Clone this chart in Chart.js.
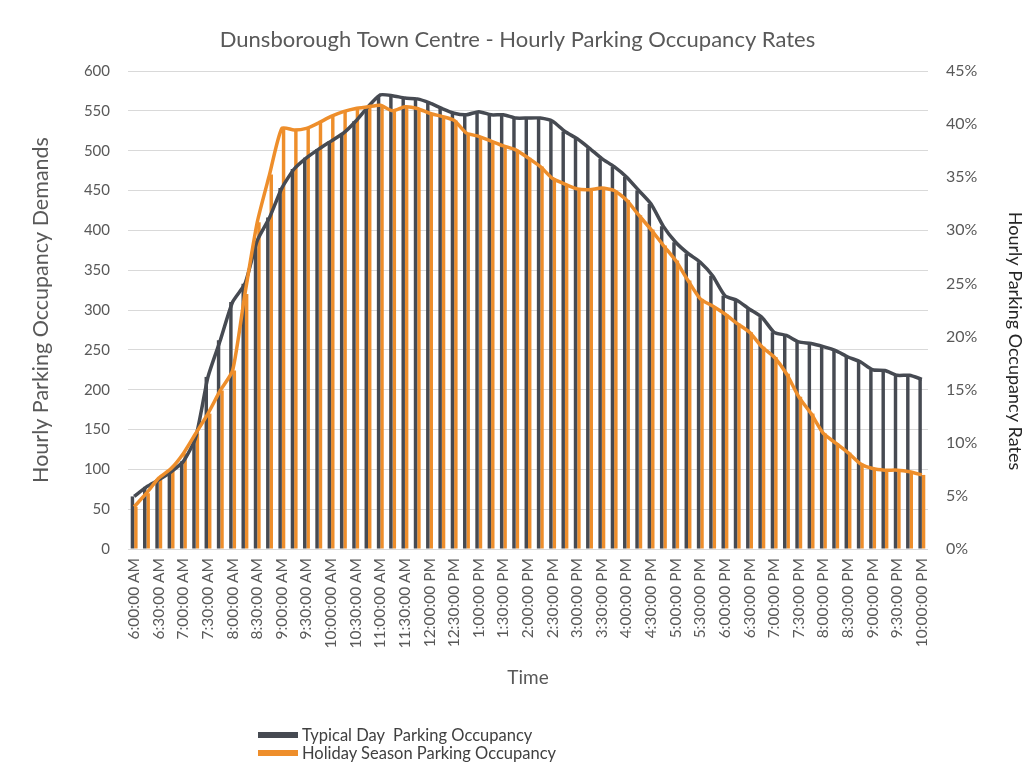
<!DOCTYPE html>
<html>
  <head>
    <title>Dunsborough Town Centre - Parking Occupancy</title>
    <script src="https://cdn.jsdelivr.net/npm/chart.js"></script>
    <style>
      body { margin: 0; background: #fff; font-family: Lato, sans-serif; }
      .chart-wrap { position: relative; width: 1035px; height: 771px; }
      #legend { position: absolute; left: 258px; top: 726px; font-size: 16.5px; color: #404040; }
      #legend .item { display: flex; align-items: center; height: 18px; white-space: pre; }
      #legend .box { display: inline-block; width: 40px; height: 6px; margin-right: 4px; }
    </style>
  </head>
  <body>
    <div class="chart-wrap">
      <canvas id="occupancy-chart" width="1035" height="771"></canvas>
      <div id="legend"></div>
    </div>
    <script>
      // 15 minute intervals, 6am to 10pm
      var times = [
        '6:00:00 AM', '6:15:00 AM', '6:30:00 AM', '6:45:00 AM', '7:00:00 AM', '7:15:00 AM', '7:30:00 AM', '7:45:00 AM',
        '8:00:00 AM', '8:15:00 AM', '8:30:00 AM', '8:45:00 AM', '9:00:00 AM', '9:15:00 AM', '9:30:00 AM', '9:45:00 AM',
        '10:00:00 AM', '10:15:00 AM', '10:30:00 AM', '10:45:00 AM', '11:00:00 AM', '11:15:00 AM', '11:30:00 AM', '11:45:00 AM',
        '12:00:00 PM', '12:15:00 PM', '12:30:00 PM', '12:45:00 PM', '1:00:00 PM', '1:15:00 PM', '1:30:00 PM', '1:45:00 PM',
        '2:00:00 PM', '2:15:00 PM', '2:30:00 PM', '2:45:00 PM', '3:00:00 PM', '3:15:00 PM', '3:30:00 PM', '3:45:00 PM',
        '4:00:00 PM', '4:15:00 PM', '4:30:00 PM', '4:45:00 PM', '5:00:00 PM', '5:15:00 PM', '5:30:00 PM', '5:45:00 PM',
        '6:00:00 PM', '6:15:00 PM', '6:30:00 PM', '6:45:00 PM', '7:00:00 PM', '7:15:00 PM', '7:30:00 PM', '7:45:00 PM',
        '8:00:00 PM', '8:15:00 PM', '8:30:00 PM', '8:45:00 PM', '9:00:00 PM', '9:15:00 PM', '9:30:00 PM', '9:45:00 PM',
        '10:00:00 PM'
      ];

      var typicalDay = [
        66, 78, 87, 97, 110, 140, 216, 262, 310, 333, 387, 416, 453, 477, 491, 502,
        512, 522, 537, 555, 570, 569, 566, 565, 560, 553, 547, 545, 549, 545, 545, 541,
        541, 541, 537, 524, 515, 503, 490, 480, 467, 450, 433, 405, 385, 371, 360, 343,
        318, 312, 301, 291, 272, 268, 260, 258, 254, 249, 241, 235, 225, 224, 218, 218,
        213
      ];

      var holidaySeason = [
        53, 70, 89, 101, 120, 145, 170, 199, 224, 320, 410, 470, 528, 526, 528, 535,
        543, 549, 553, 555, 557, 550, 555, 553, 547, 543, 538, 522, 518, 512, 506, 501,
        491, 480, 465, 458, 452, 451, 453, 450, 438, 419, 401, 381, 362, 337, 314, 305,
        295, 283, 272, 254, 241, 220, 191, 170, 145, 133, 121, 107, 101, 99, 99, 97,
        93
      ];

      var darkGrey = '#464a52';
      var orange = '#ee8e2b';

      Chart.defaults.font.family = 'Lato, sans-serif';
      Chart.defaults.color = '#595959';

      // the rates axis title sits a little below the middle of the axis
      var ratesTitle = {
        id: 'ratesTitle',
        afterDraw: function (chart) {
          var area = chart.chartArea;
          var c = chart.ctx;
          c.save();
          c.translate(chart.scales.y1.right - 20, (area.top + area.bottom) / 2 + 31);
          c.rotate(Math.PI / 2);
          c.font = '18px Lato, sans-serif';
          c.fillStyle = '#262626';
          c.textAlign = 'center';
          c.textBaseline = 'middle';
          c.fillText('Hourly Parking Occupancy Rates', 0, 0);
          c.restore();
        },
      };

      var ctx = document.getElementById('occupancy-chart').getContext('2d');

      var chartData = {
        labels: times,
        datasets: [
          {
            type: 'line',
            label: 'Holiday Season',
            data: holidaySeason,
            borderColor: orange,
            borderWidth: 3.5,
            pointRadius: 0,
            tension: 0.2,
            yAxisID: 'y',
            order: 0,
          },
          {
            type: 'line',
            label: 'Typical Day',
            data: typicalDay,
            borderColor: darkGrey,
            borderWidth: 3.5,
            pointRadius: 0,
            tension: 0.2,
            yAxisID: 'y',
            order: 1,
          },
          {
            type: 'bar',
            label: 'Typical Day  Parking Occupancy',
            data: typicalDay,
            backgroundColor: darkGrey,
            categoryPercentage: 0.56,
            barPercentage: 1.0,
            yAxisID: 'y',
            order: 2,
          },
          {
            type: 'bar',
            label: 'Holiday Season Parking Occupancy',
            data: holidaySeason,
            backgroundColor: orange,
            categoryPercentage: 0.56,
            barPercentage: 1.0,
            yAxisID: 'y',
            order: 2,
          },
        ],
      };

      var chartOptions = {
        responsive: false,
        animation: false,
        layout: { padding: 0 },
        plugins: {
          legend: { display: false },
          tooltip: { enabled: false },
          title: {
            display: true,
            text: 'Dunsborough Town Centre - Hourly Parking Occupancy Rates',
            color: '#595959',
            font: { size: 22, weight: 'normal' },
            padding: { top: 27, bottom: 17.6 },
          },
        },
        scales: {
          x: {
            grid: { display: false },
            border: { display: false },
            ticks: {
              autoSkip: false,
              minRotation: 90,
              maxRotation: 90,
              padding: 1,
              font: { size: 15.5 },
              callback: function (value, index) {
                return index % 2 === 0 ? times[index] : '';
              },
            },
            title: {
              display: true,
              text: 'Time',
              font: { size: 19 },
              padding: { bottom: 82 },
            },
            afterFit: function (scale) {
              scale.height = 222;
            },
          },
          y: {
            position: 'left',
            min: 0,
            max: 600,
            border: { display: false },
            grid: { color: '#d9d9d9', drawTicks: false },
            ticks: { stepSize: 50, padding: 18, font: { size: 15 } },
            title: {
              display: true,
              text: 'Hourly Parking Occupancy Demands',
              font: { size: 21.5 },
              padding: { top: 28 },
            },
            afterFit: function (scale) {
              scale.width = 128;
            },
          },
          y1: {
            position: 'right',
            min: 0,
            max: 45,
            border: { display: false },
            grid: { display: false, drawTicks: false },
            ticks: {
              stepSize: 5,
              padding: 18,
              font: { size: 16 },
              callback: function (value) {
                return value + '%';
              },
            },
            afterFit: function (scale) {
              scale.width = 107;
            },
          },
        },
      };

      var occupancyChart = new Chart(ctx, {
        type: 'bar',
        data: chartData,
        options: chartOptions,
        plugins: [ratesTitle],
      });

      // legend for the two bar series, stacked one per row
      var legendEl = document.getElementById('legend');
      occupancyChart.data.datasets.forEach(function (ds) {
        if (ds.type !== 'bar') return;
        var row = document.createElement('div');
        row.className = 'item';
        var box = document.createElement('span');
        box.className = 'box';
        box.style.background = ds.backgroundColor;
        row.appendChild(box);
        row.appendChild(document.createTextNode(ds.label));
        legendEl.appendChild(row);
      });
    </script>
  </body>
</html>
